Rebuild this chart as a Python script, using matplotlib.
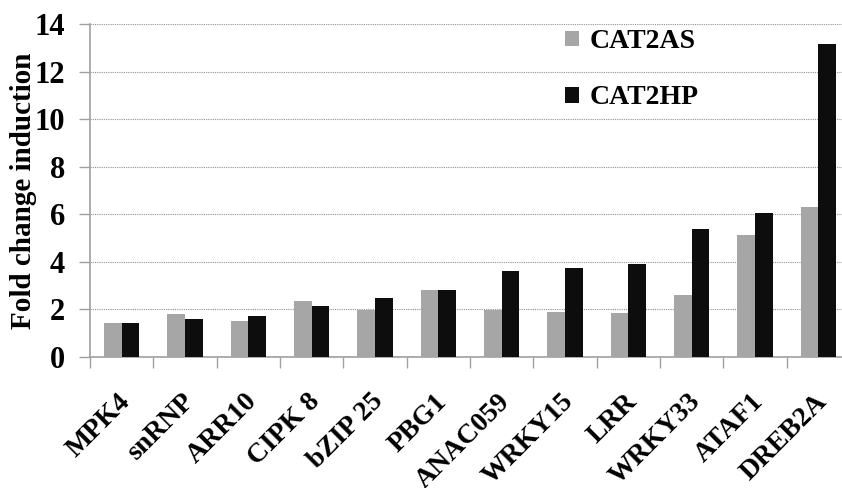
import matplotlib
matplotlib.use("Agg")
import matplotlib.pyplot as plt
import matplotlib.transforms as mtransforms
import numpy as np

genes = ["MPK4", "snRNP", "ARR10", "CIPK 8", "bZIP 25", "PBG1", "ANAC059",
         "WRKY15", "LRR", "WRKY33", "ATAF1", "DREB2A"]
cat2as = [1.43, 1.81, 1.53, 2.35, 1.96, 2.82, 1.96, 1.88, 1.84, 2.59, 5.14, 6.31]
cat2hp = [1.43, 1.58, 1.72, 2.14, 2.48, 2.82, 3.63, 3.74, 3.89, 5.38, 6.06, 13.18]
yticks = [0, 2, 4, 6, 8, 10, 12, 14]

plt.rcParams['font.family'] = ['Liberation Serif', 'DejaVu Serif']
plt.rcParams['font.weight'] = 'bold'

fig = plt.figure(figsize=(8.42, 4.88), dpi=100)
ax = fig.add_axes([90/842, 131/488, 760/842, 333/488])

x = np.arange(len(genes))
w = 0.28
ax.bar(x - w/2, cat2as, w, color='#a6a6a6', label='CAT2AS', zorder=3)
ax.bar(x + w/2, cat2hp, w, color='#0d0d0d', label='CAT2HP', zorder=3)

ax.set_xlim(-0.5, len(genes) - 0.5)
ax.set_ylim(0, 14)
ax.set_yticks(yticks)
ax.set_yticklabels([str(v) for v in yticks], fontsize=22, fontweight='bold')
ax.yaxis.grid(True, linestyle=(0, (1, 1)), color='#909090', linewidth=0.8, zorder=0)

ax.set_xticks(x)
ax.set_xticklabels(genes, fontsize=20, fontweight='bold', rotation=45,
                   ha='right', va='top', rotation_mode='anchor')
ax.tick_params(axis='x', which='major', length=0, pad=0)
offset = mtransforms.ScaledTranslation(-4/100, -32/100, fig.dpi_scale_trans)
for lbl in ax.get_xticklabels():
    lbl.set_transform(lbl.get_transform() + offset)
ax.set_xticks(np.arange(-0.5, len(genes), 1.0), minor=True)
ax.tick_params(axis='x', which='minor', length=8, color='#a0a0a0', width=1)
ax.tick_params(axis='y', length=8, color='#a0a0a0', width=1, pad=10)

for s in ['top', 'right']:
    ax.spines[s].set_visible(False)
for s in ['left', 'bottom']:
    ax.spines[s].set_color('#a0a0a0')
    ax.spines[s].set_linewidth(1.2)

ax.set_ylabel('Fold change induction', fontsize=21, fontweight='bold')
ax.yaxis.set_label_coords(-53/760, 0.5)

leg = ax.legend(loc='upper left', bbox_to_anchor=(458/760, 1.034), frameon=False,
                prop={'size': 20, 'weight': 'bold'}, handlelength=0.5,
                handleheight=0.5, handletextpad=0.4, labelspacing=1.12,
                borderaxespad=0.2)

fig.savefig('out.png', dpi=100)
